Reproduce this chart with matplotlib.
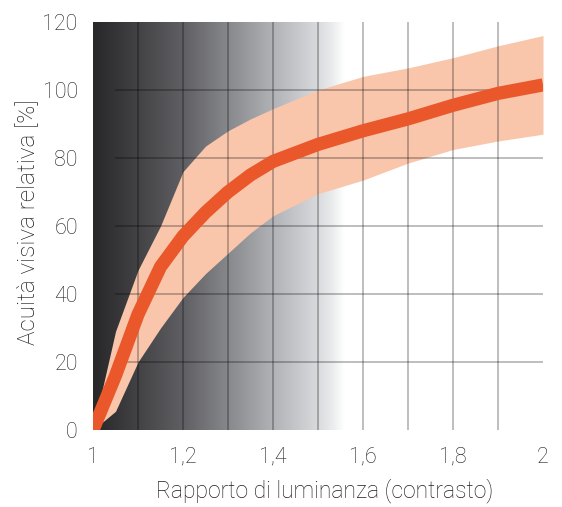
import numpy as np
import matplotlib
matplotlib.use("Agg")
import matplotlib.pyplot as plt
from matplotlib.colors import LinearSegmentedColormap

plt.rcParams['font.family'] = ['Roboto', 'Liberation Sans', 'DejaVu Sans']
plt.rcParams['font.weight'] = 'light'

# contrast ratio and relative visual acuity (mean curve with spread band)
contrast = [1.0, 1.05, 1.1, 1.15, 1.2, 1.25, 1.3, 1.35, 1.4, 1.5, 1.6, 1.7, 1.8, 1.9, 2.0]
acuity = [0, 16, 34, 48, 57, 64, 70, 75, 79, 84, 88, 91.5, 95.5, 99, 101.5]
acuity_hi = [0, 29, 47, 60, 76, 83.5, 88, 91.5, 94.5, 100, 104, 106.5, 109.5, 113, 116]
acuity_lo = [0, 5.5, 20, 30, 39, 46, 52, 58, 63, 69.5, 73.5, 78.5, 82.5, 85, 87]

xticks = [1, 1.2, 1.4, 1.6, 1.8, 2]
xtick_labels = ['1', '1,2', '1,4', '1,6', '1,8', '2']
yticks = [0, 20, 40, 60, 80, 100, 120]

fig = plt.figure(figsize=(5.62, 5.07), dpi=100)
ax = fig.add_axes([0.1655, 0.1519, 0.8007, 0.8047])

# dark-to-light background on the low-contrast side (x from 1.0 to 1.56)
stops = [(0.0, '#28282b'), (0.09, '#353538'), (0.18, '#434346'), (0.36, '#606064'),
         (0.54, '#88898d'), (0.71, '#b0b1b5'), (0.89, '#d8d9dc'), (0.95, '#eaebed'),
         (1.0, '#ffffff')]
cmap = LinearSegmentedColormap.from_list('bg', stops)
grad = np.linspace(0, 1, 256).reshape(1, -1)
ax.imshow(grad, cmap=cmap, extent=[1.0, 1.56, 0, 120], aspect='auto',
          interpolation='bilinear', zorder=0)

ax.fill_between(contrast, acuity_lo, acuity_hi, color='#f9c6ab', lw=0, zorder=1)

for gx in np.arange(1.1, 1.95, 0.1):
    ax.axvline(gx, color='black', alpha=0.28, lw=1.3, zorder=2)
for gy in range(20, 101, 20):
    ax.axhline(gy, xmin=0.05, color='black', alpha=0.28, lw=1.3, zorder=2)

ax.plot(contrast, acuity, color='#e9572b', lw=9.5, solid_capstyle='butt',
        solid_joinstyle='round', zorder=3)

ax.set_xlim(1, 2)
ax.set_ylim(0, 120)
ax.set_xticks(xticks)
ax.set_xticklabels(xtick_labels)
ax.set_yticks(yticks)
ax.tick_params(length=0, labelsize=15.5, labelcolor='#1e1e1e')
ax.tick_params(axis='x', pad=12)
ax.tick_params(axis='y', pad=11)
for s in ax.spines.values():
    s.set_visible(False)

ax.set_xlabel('Rapporto di luminanza (contrasto)', fontsize=16.5, color='#1e1e1e',
              fontweight='light')
ax.set_ylabel('Acuità visiva relativa [%]', fontsize=17.5, color='#1e1e1e',
              fontweight='light')
ax.xaxis.set_label_coords(0.515, -0.118)
ax.yaxis.set_label_coords(-0.118, 0.51)

fig.savefig('out.png', dpi=100)
